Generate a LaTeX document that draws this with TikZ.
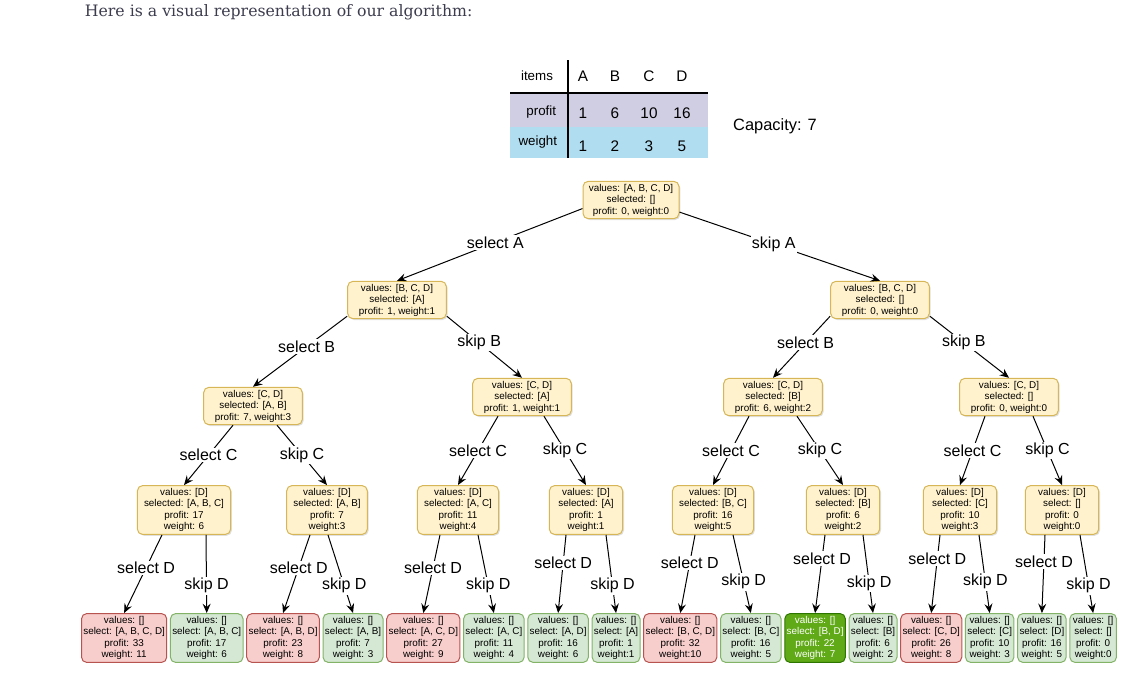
\documentclass[tikz,border=0pt]{standalone}
\usepackage{fontspec}
\setmainfont{Liberation Sans}
\newfontfamily\headfont{DejaVu Serif}
\usetikzlibrary{arrows.meta,positioning,calc,shadows}

\definecolor{boxfill}{HTML}{FFF2CC}
\definecolor{boxline}{HTML}{D6B656}
\definecolor{redfill}{HTML}{F8CECC}
\definecolor{redline}{HTML}{B85450}
\definecolor{greenfill}{HTML}{D5E8D4}
\definecolor{greenline}{HTML}{82B366}
\definecolor{bestfill}{HTML}{60A917}
\definecolor{bestline}{HTML}{2D7600}
\definecolor{profitrow}{HTML}{D0CEE2}
\definecolor{weightrow}{HTML}{B1DDF0}
\definecolor{headtext}{HTML}{3C3C4E}

\newcommand{\boxfont}{\fontsize{7.4}{8.6}\selectfont}
\newcommand{\lblfont}{\fontsize{12}{14}\selectfont}

\begin{document}
\begin{tikzpicture}[x=0.75pt,y=-0.75pt,line width=0.75pt,
    >={Stealth[length=7pt,width=6pt,inset=2.5pt]}]
  \tikzstyle{branch}=[draw=boxline, fill=boxfill, rounded corners=4pt, align=center,
    font=\boxfont, inner xsep=3.5pt, inner ysep=2pt, minimum width=74pt,
    drop shadow={opacity=0.25,shadow xshift=1pt,shadow yshift=-1pt}]
  \tikzstyle{deep}=[branch, minimum width=55pt, inner xsep=5pt]
  \tikzstyle{leaf}=[draw=greenline, fill=greenfill, rounded corners=4pt, align=center,
    font=\boxfont, inner xsep=1.4pt, inner ysep=2pt, minimum width=35pt]
  \tikzstyle{over}=[leaf, draw=redline, fill=redfill]
  \tikzstyle{best}=[leaf, draw=bestline, fill=bestfill, text=white]
  \tikzstyle{lbl}=[fill=white, font=\lblfont, inner sep=1pt]
  \tikzstyle{cell}=[font=\fontsize{11.5}{13}\selectfont]
  \tikzstyle{rowname}=[font=\fontsize{10}{12}\selectfont]

  \useasboundingbox (0,0) rectangle (1143,690);

  \node[anchor=base west, font=\headfont\fontsize{11.8}{14}\selectfont, text=headtext]
    (head) at (80,16) {Here is a visual representation of our algorithm:};

  % item table
  \fill[profitrow] (510,93) rectangle (708,127);
  \fill[weightrow] (510,127) rectangle (708,158);
  \draw[line width=1.5pt] (510,93) -- (708,93);
  \draw[line width=1.5pt] (568,60) -- (568,158);
  \node[rowname] (items) at (537,76) {items};
  \node[rowname, anchor=east] (profit) at (561,112) {profit};
  \node[rowname, anchor=east] (weight) at (562,142) {weight};
  \node[cell] (hA) at (583,76) {A};
  \node[cell] (hB) at (615,76) {B};
  \node[cell] (hC) at (649,76) {C};
  \node[cell] (hD) at (682,76) {D};
  \node[cell] (pA) at (583,113) {1};
  \node[cell] (pB) at (615,113) {6};
  \node[cell] (pC) at (649,113) {10};
  \node[cell] (pD) at (682,113) {16};
  \node[cell] (wA) at (583,146) {1};
  \node[cell] (wB) at (615,146) {2};
  \node[cell] (wC) at (649,146) {3};
  \node[cell] (wD) at (682,146) {5};
  \node[font=\fontsize{12.3}{14}\selectfont] (cap) at (775,126) {Capacity: 7};

  % decision tree
  \node[branch, minimum width=72pt] (root) at (631,200) {values: [A, B, C, D]\\selected: []\\profit: 0, weight:0};

  \node[branch] (s) at (397,300) {values: [B, C, D]\\selected: [A]\\profit: 1, weight:1};
  \node[branch] (k) at (880,300) {values: [B, C, D]\\selected: []\\profit: 0, weight:0};

  \node[branch] (ss) at (253,406) {values: [C, D]\\selected: [A, B]\\profit: 7, weight:3};
  \node[branch] (sk) at (522,397) {values: [C, D]\\selected: [A]\\profit: 1, weight:1};
  \node[branch] (ks) at (773,397) {values: [C, D]\\selected: [B]\\profit: 6, weight:2};
  \node[branch] (kk) at (1009,397) {values: [C, D]\\selected: []\\profit: 0, weight:0};

  \node[deep] (sss) at (184,510) {values: [D]\\selected: [A, B, C]\\profit: 17\\weight: 6};
  \node[deep] (ssk) at (327,510) {values: [D]\\selected: [A, B]\\profit: 7\\weight:3};
  \node[deep] (sks) at (458,510) {values: [D]\\selected: [A, C]\\profit: 11\\weight:4};
  \node[deep] (skk) at (586,510) {values: [D]\\selected: [A]\\profit: 1\\weight:1};
  \node[deep] (kss) at (713,510) {values: [D]\\selected: [B, C]\\profit: 16\\weight:5};
  \node[deep] (ksk) at (843,510) {values: [D]\\selected: [B]\\profit: 6\\weight:2};
  \node[deep] (kks) at (960,510) {values: [D]\\selected: [C]\\profit: 10\\weight:3};
  \node[deep] (kkk) at (1062,510) {values: [D]\\select: []\\profit: 0\\weight:0};

  \node[over, anchor=west] (ssss) at (81,638) {values: []\\select: [A, B, C, D]\\profit: 33\\weight: 11};
  \node[leaf] (sssk) [right=2pt of ssss] {values: []\\select: [A, B, C]\\profit: 17\\weight: 6};
  \node[over] (ssks) [right=2pt of sssk] {values: []\\select: [A, B, D]\\profit: 23\\weight: 8};
  \node[leaf] (sskk) [right=2pt of ssks] {values: []\\select: [A, B]\\profit: 7\\weight: 3};
  \node[over] (skss) [right=2pt of sskk] {values: []\\select: [A, C, D]\\profit: 27\\weight: 9};
  \node[leaf] (sksk) [right=2pt of skss] {values: []\\select: [A, C]\\profit: 11\\weight: 4};
  \node[leaf] (skks) [right=2pt of sksk] {values: []\\select: [A, D]\\profit: 16\\weight: 6};
  \node[leaf] (skkk) [right=2pt of skks] {values: []\\select: [A]\\profit: 1\\weight:1};
  \node[over] (ksss) [right=2pt of skkk] {values: []\\select: [B, C, D]\\profit: 32\\weight:10};
  \node[leaf] (kssk) [right=2pt of ksss] {values: []\\select: [B, C]\\profit: 16\\weight: 5};
  \node[best] (ksks) [right=2pt of kssk] {values: []\\select: [B, D]\\profit: 22\\weight: 7};
  \node[leaf] (kskk) [right=2pt of ksks] {values: []\\select: [B]\\profit: 6\\weight: 2};
  \node[over] (kkss) [right=2pt of kskk] {values: []\\select: [C, D]\\profit: 26\\weight: 8};
  \node[leaf] (kksk) [right=2pt of kkss] {values: []\\select: [C]\\profit: 10\\weight: 3};
  \node[leaf] (kkks) [right=2pt of kksk] {values: []\\select: [D]\\profit: 16\\weight: 5};
  \node[leaf] (kkkk) [right=2pt of kkks] {values: []\\select: []\\profit: 0\\weight:0};

  \path[->]
  (root.190) edge node[lbl, pos=0.47] {select A} (s.north)
  (root.346) edge node[lbl, pos=0.47] {skip A} (k.north)

  (s.198) edge node[lbl, pos=0.43] {select B} (ss.north)
  (s.342) edge node[lbl, pos=0.43] {skip B} (sk.north)
  (k.198) edge node[lbl, pos=0.43] {select B} (ks.north)
  (k.342) edge node[lbl, pos=0.43] {skip B} (kk.north)

  ($(ss.south)+(-20,0)$) edge node[lbl] {select C} (sss.north)
  ($(ss.south)+(24,0)$) edge node[lbl] {skip C} (ssk.north)
  ($(sk.south)+(-24,0)$) edge node[lbl] {select C} (sks.north)
  ($(sk.south)+(22,0)$) edge node[lbl] {skip C} (skk.north)
  ($(ks.south)+(-24,0)$) edge node[lbl] {select C} (kss.north)
  ($(ks.south)+(24,0)$) edge node[lbl] {skip C} (ksk.north)
  ($(kk.south)+(-24,0)$) edge node[lbl] {select C} (kks.north)
  ($(kk.south)+(24,0)$) edge node[lbl] {skip C} (kkk.north)

  ($(sss.south)+(-22,0)$) edge node[lbl, pos=0.42] {select D} (ssss.north)
  ($(sss.south)+(22,0)$) edge node[lbl, pos=0.65] {skip D} (sssk.north)
  ($(ssk.south)+(-17,0)$) edge node[lbl, pos=0.42] {select D} (ssks.north)
  ($(ssk.south)+(1,0)$) edge node[lbl, pos=0.65] {skip D} (sskk.north)
  ($(sks.south)+(-18,0)$) edge node[lbl, pos=0.42] {select D} (skss.north)
  ($(sks.south)+(20,0)$) edge node[lbl, pos=0.65] {skip D} (sksk.north)
  ($(skk.south)+(-20,0)$) edge node[lbl, pos=0.36] {select D} (skks.north)
  ($(skk.south)+(20,0)$) edge node[lbl, pos=0.65] {skip D} (skkk.north)
  ($(kss.south)+(-18,0)$) edge node[lbl, pos=0.36] {select D} (ksss.north)
  ($(kss.south)+(20,0)$) edge node[lbl, pos=0.6] {skip D} (kssk.north)
  ($(ksk.south)+(-18,0)$) edge node[lbl, pos=0.3] {select D} (ksks.north)
  ($(ksk.south)+(20,0)$) edge node[lbl, pos=0.62] {skip D} (kskk.north)
  ($(kks.south)+(-20,0)$) edge node[lbl, pos=0.3] {select D} (kkss.north)
  ($(kks.south)+(19,0)$) edge node[lbl, pos=0.6] {skip D} (kksk.north)
  ($(kkk.south)+(-17,0)$) edge node[lbl, pos=0.34] {select D} (kkks.north)
  ($(kkk.south)+(18,0)$) edge node[lbl, pos=0.65] {skip D} (kkkk.north);
\end{tikzpicture}
\end{document}
